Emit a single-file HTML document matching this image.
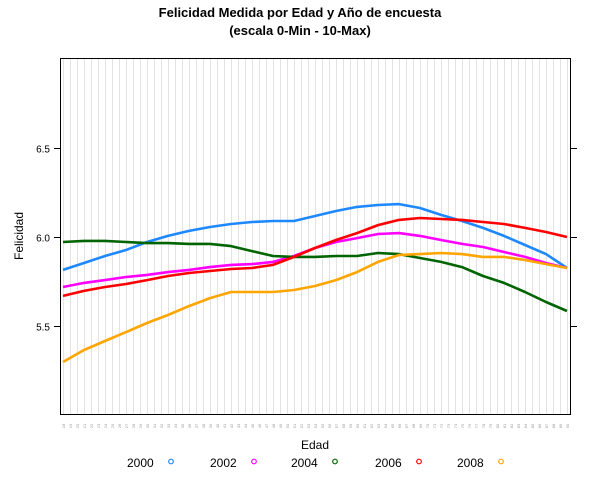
<!DOCTYPE html>
<html><head><meta charset="utf-8"><style>
body{margin:0;background:#fff;}
svg text{font-family:"Liberation Sans",sans-serif;}
</style></head><body>
<svg id="chart" width="600" height="480" xmlns="http://www.w3.org/2000/svg">
<rect width="600" height="480" fill="#fff"/>
<text x="300" y="17" text-anchor="middle" font-size="13" font-weight="bold">Felicidad Medida por Edad y Año de encuesta</text>
<text x="300" y="35" text-anchor="middle" font-size="13" font-weight="bold">(escala 0-Min - 10-Max)</text>
<text transform="translate(23,236) rotate(-90)" text-anchor="middle" font-size="12">Felicidad</text>
<text x="315" y="449" text-anchor="middle" font-size="12">Edad</text>
<g id="grid"></g><g id="xt"></g><g id="yt"></g><g id="series"></g>
<rect x="60.5" y="58.5" width="510" height="356" fill="none" stroke="#000" stroke-width="1"/>
<g id="legend"></g>
</svg>
<script>
const ages=[18,21,24,27,30,33,36,39,42,45,48,51,54,57,60,63,66,69,72,75,78,81,84,87,90];
const years=["2000","2002","2004","2006","2008"];
const colors=["#1e88ff","#ff00ff","#006400","#ff0000","#ffa500"];
const s2000=[5.815,5.854,5.893,5.927,5.972,6.006,6.034,6.056,6.073,6.084,6.090,6.090,6.118,6.146,6.169,6.180,6.185,6.163,6.124,6.090,6.051,6.006,5.955,5.904,5.826];
const s2002=[5.719,5.742,5.758,5.775,5.787,5.803,5.815,5.831,5.843,5.848,5.860,5.893,5.938,5.972,5.994,6.017,6.022,6.006,5.983,5.961,5.944,5.916,5.888,5.854,5.826];
const s2004=[5.972,5.978,5.978,5.972,5.966,5.966,5.961,5.961,5.949,5.921,5.893,5.888,5.888,5.893,5.893,5.910,5.904,5.882,5.860,5.831,5.781,5.742,5.691,5.635,5.584];
const s2006=[5.669,5.697,5.719,5.736,5.758,5.781,5.798,5.809,5.820,5.826,5.843,5.888,5.938,5.983,6.022,6.067,6.096,6.107,6.101,6.096,6.084,6.073,6.051,6.028,6.000];
const s2008=[5.298,5.365,5.416,5.466,5.517,5.562,5.612,5.657,5.691,5.691,5.691,5.702,5.725,5.758,5.803,5.860,5.899,5.904,5.910,5.904,5.888,5.888,5.871,5.848,5.826];
const yTicks=[5.5,6.0,6.5];
const ageMin=18, ageMax=90;
const NS="http://www.w3.org/2000/svg";
function X(a){return 63+(a-ageMin)*7;}
function Y(v){return 237-(v-6)*178;}
function mk(t,attrs,parent){const e=document.createElementNS(NS,t);for(const k in attrs)e.setAttribute(k,attrs[k]);document.getElementById(parent).appendChild(e);return e;}
for(let a=ageMin;a<=ageMax;a++){
  const l=mk('line',{x1:X(a)+.5,x2:X(a)+.5,y1:59,y2:414,stroke:'#e3e3e3','stroke-width':1},'grid');
  
  
  const t=mk('text',{transform:`translate(${X(a)+2},426) rotate(-90)`,'font-size':4,fill:'#999','text-anchor':'middle'},'xt');
  t.textContent=a;
  
  
}
yTicks.forEach(v=>{
  const y=Math.round(Y(v))+.5;
  const l1=mk('line',{x1:54,x2:60,y1:y,y2:y,stroke:'#000'},'yt');
  
  
  const l2=mk('line',{x1:571,x2:577,y1:y,y2:y,stroke:'#000'},'yt');
  
  
  const t=mk('text',{x:50,y:y+4,'font-size':10,'text-anchor':'end'},'yt');
  t.textContent=v.toFixed(1);
  
  
});
[s2000,s2002,s2004,s2006,s2008].forEach((s,i)=>{
  const pts=s.map((v,j)=>X(ages[j]).toFixed(1)+','+Y(v).toFixed(1)).join(' ');
  const p=mk('polyline',{points:pts,fill:'none',stroke:colors[i],'stroke-width':2.6,'stroke-linejoin':'round'},'series');
  
  
});
const lx=[127,210,291,375,457];
years.forEach((yr,i)=>{
  const t=mk('text',{x:lx[i],y:467,'font-size':12},'legend');
  t.textContent=yr;
  
  
  const c=mk('circle',{cx:lx[i]+44,cy:461.5,r:2.3,fill:'none',stroke:colors[i],'stroke-width':1.2},'legend');
  
  
});
</script>
</body></html>
